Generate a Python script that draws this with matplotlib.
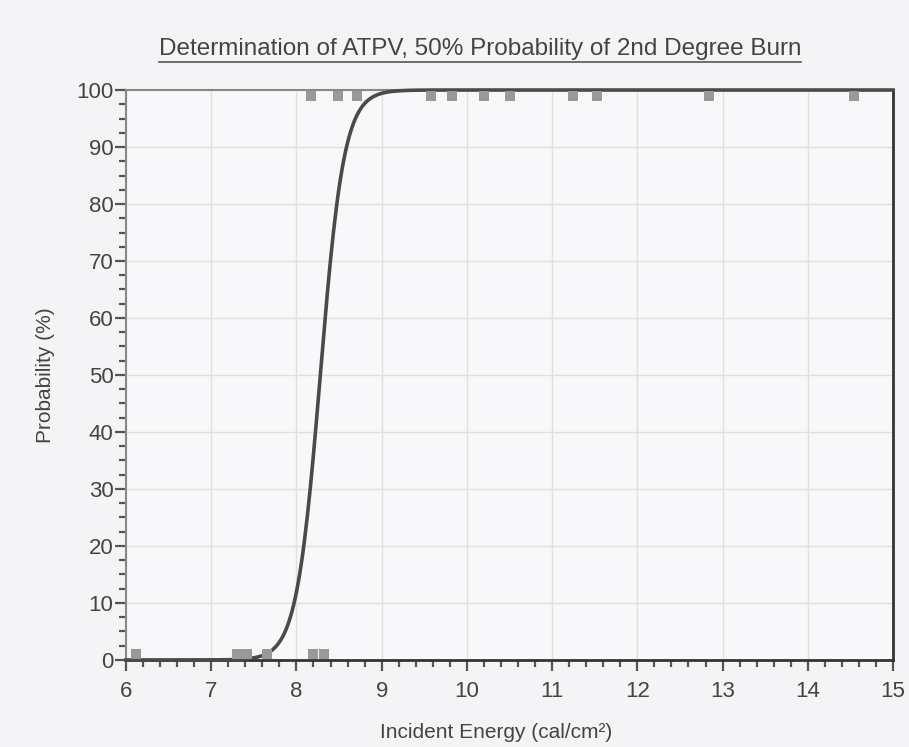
import numpy as np
import matplotlib
matplotlib.use('Agg')
import matplotlib.pyplot as plt
from matplotlib.ticker import MultipleLocator
from matplotlib.lines import Line2D

# test results: burn (100) / no burn (0)
burn_x = [8.17, 8.49, 8.71, 9.58, 9.82, 10.2, 10.51, 11.24, 11.53, 12.84, 14.54]
burn_y = [98.9] * len(burn_x)
noburn_x = [6.12, 7.3, 7.42, 7.65, 8.2, 8.32]
noburn_y = [1.1] * len(noburn_x)

# logistic fit
atpv = 8.28
slope = 0.14

plt.rcParams['font.family'] = ['Liberation Sans', 'DejaVu Sans']

fig = plt.figure(figsize=(9.09, 7.47), dpi=100, facecolor='#f4f4f6')
ax = fig.add_axes([0.1386, 0.1165, 0.8438, 0.763])
ax.set_facecolor('#f8f8fa')

xs = np.linspace(6, 15, 500)
ys = 100 / (1 + np.exp(-(xs - atpv) / slope))
ax.plot(xs, ys, color='#4a4a4a', lw=2.6, zorder=3, clip_on=False)

ax.plot(burn_x, burn_y, 's', color='#999999', ms=7.5, mew=0, zorder=4, clip_on=False)
ax.plot(noburn_x, noburn_y, 's', color='#999999', ms=7.5, mew=0, zorder=4, clip_on=False)

ax.set_xlim(6, 15)
ax.set_ylim(0, 100)
ax.xaxis.set_major_locator(MultipleLocator(1))
ax.xaxis.set_minor_locator(MultipleLocator(0.2))
ax.yaxis.set_major_locator(MultipleLocator(10))
ax.yaxis.set_minor_locator(MultipleLocator(2.5))
ax.grid(True, which='major', color='#e0e0e0', lw=1)
ax.set_axisbelow(True)

ax.tick_params(axis='both', which='major', length=8, width=1.6, colors='#555555', labelsize=16, labelcolor='#444444')
ax.tick_params(axis='both', which='minor', length=5, width=1.6, colors='#555555')
ax.tick_params(axis='x', which='major', pad=7)
ax.tick_params(axis='y', which='major', pad=1)
for side in ['top', 'left']:
    ax.spines[side].set_color('#888888')
    ax.spines[side].set_linewidth(1.5)
for side in ['bottom', 'right']:
    ax.spines[side].set_color('#333333')
    ax.spines[side].set_linewidth(2)

ax.set_xlabel('Incident Energy (cal/cm²)', fontsize=15, color='#444444')
ax.xaxis.set_label_coords(0.483, -0.11)
ax.set_ylabel('Probability (%)', fontsize=15, color='#444444')
ax.yaxis.set_label_coords(-0.093, 0.5)

title = fig.text(0.528, 0.934, 'Determination of ATPV, 50% Probability of 2nd Degree Burn',
                 ha='center', va='center', fontsize=17.5, color='#444444')
fig.canvas.draw()
bb = title.get_window_extent().transformed(fig.transFigure.inverted())
fig.add_artist(Line2D([bb.x0, bb.x1], [bb.y0 - 0.002, bb.y0 - 0.002], color='#555555', lw=1.2,
                      transform=fig.transFigure))

fig.savefig('out.png', dpi=100, facecolor=fig.get_facecolor())
